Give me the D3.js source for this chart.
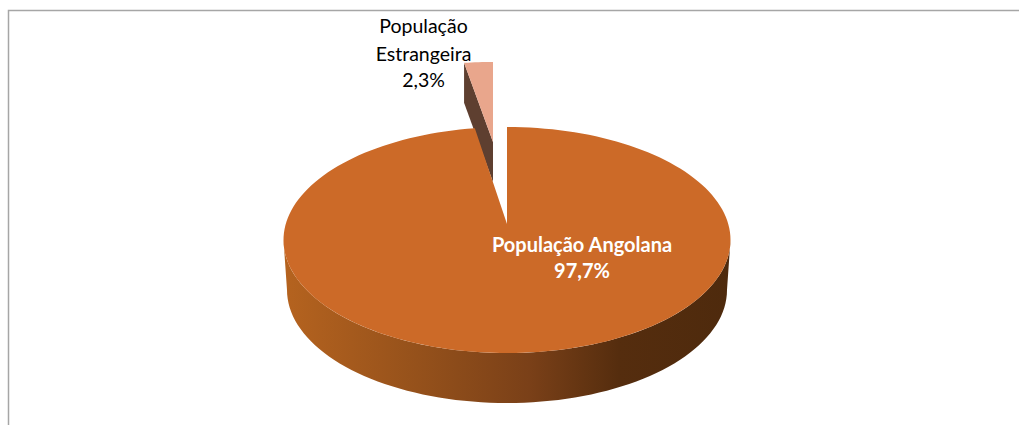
<!DOCTYPE html>
<html>
<head>
<meta charset="utf-8">
<script src="https://cdn.jsdelivr.net/npm/d3@7"></script>
<style>
html, body { margin: 0; padding: 0; background: #fff; overflow: hidden; }
text { font-family: Lato, "Open Sans", sans-serif; }
</style>
</head>
<body>
<div id="chart"></div>
<script>
const categories = ["População Angolana", "População Estrangeira"];
const values = [97.7, 2.3];
const valueLabels = ["97,7%", "2,3%"];

const width = 1019, height = 425;

const svg = d3.select("#chart").append("svg")
    .attr("width", width)
    .attr("height", height)
    .style("display", "block");

// Chart frame, only top and left edges show in the crop
svg.append("path")
    .attr("d", d3.line()([[8.5, height], [8.5, 10.5], [width, 10.5]]))
    .attr("fill", "none")
    .attr("stroke", "#a6a6a6")
    .attr("stroke-width", 1.5);

// Side wall gradient
const grad = svg.append("defs").append("linearGradient")
    .attr("id", "wall")
    .attr("gradientUnits", "userSpaceOnUse")
    .attr("x1", 284).attr("x2", 731).attr("y1", 0).attr("y2", 0);
[[0, "#b5631f"], [0.3, "#95511b"], [0.55, "#7a4018"], [0.75, "#552d0e"], [1, "#4e2a0d"]].forEach(s => {
    grad.append("stop").attr("offset", s[0]).attr("stop-color", s[1]);
});

// Slices start at 12 o'clock going clockwise, foreign slice ends there
const pie = d3.pie().sort(null).startAngle(0).endAngle(2 * Math.PI);
const arcs = pie(values);
const mainArc = arcs[0], smallArc = arcs[1];

// Point on an ellipse for a pie angle
const onEllipse = (e, a) => [e.cx + e.rx * Math.sin(a), e.cy - e.ry * Math.cos(a)];
const sample = (e, a0, a1, n) => d3.range(n + 1).map(i => onEllipse(e, a0 + (a1 - a0) * i / n));
const line = d3.line();

const topFace = { cx: 507, cy: 240, rx: 223.5, ry: 113 };
const bottomFace = { cx: 507, cy: 290, rx: 220, ry: 113 };
const apex = [507, 224]; // perspective pulls the tip above the ellipse centre

// Exploded slice sits further back, so it is drawn smaller
const smallFace = { cx: 493, cy: 142, rx: 201, ry: 80 };
const smallDepth = 40;

// Exploded slice wall
const sp = sample(smallFace, smallArc.startAngle, smallArc.endAngle, 8);
const sTip = [smallFace.cx, smallFace.cy];
svg.append("path")
    .attr("d", line([sp[0], sTip, [sTip[0], sTip[1] + smallDepth], [sp[0][0], sp[0][1] + smallDepth]]) + "Z")
    .attr("fill", "#5e3f30");
svg.append("path")
    .attr("d", line([sTip, ...sp]) + "Z")
    .attr("fill", "#e9a68c");

// Main slice wall (front half only)
const wallTop = sample(topFace, Math.PI / 2, 3 * Math.PI / 2, 80);
const wallBottom = sample(bottomFace, 3 * Math.PI / 2, Math.PI / 2, 80);
svg.append("path")
    .attr("d", line([...wallTop, ...wallBottom]) + "Z")
    .attr("fill", "url(#wall)");

// Main slice top
svg.append("path")
    .attr("d", line([apex, ...sample(topFace, mainArc.startAngle, mainArc.endAngle, 180)]) + "Z")
    .attr("fill", "#cc6a28");

// Labels
const mainLabel = svg.append("text")
    .attr("text-anchor", "middle")
    .attr("fill", "#fff")
    .attr("font-weight", 700)
    .attr("font-size", 20);
mainLabel.append("tspan").attr("x", 582).attr("y", 252).text(categories[0]);
mainLabel.append("tspan").attr("x", 582).attr("y", 278).text(valueLabels[0]);

const smallLabel = svg.append("text")
    .attr("text-anchor", "middle")
    .attr("fill", "#000")
    .attr("font-size", 19.5);
const words = categories[1].split(" ");
smallLabel.append("tspan").attr("x", 423.5).attr("y", 33).text(words[0]);
smallLabel.append("tspan").attr("x", 423.5).attr("y", 61).text(words[1]);
smallLabel.append("tspan").attr("x", 423.5).attr("y", 87).text(valueLabels[1]);
</script>
</body>
</html>
